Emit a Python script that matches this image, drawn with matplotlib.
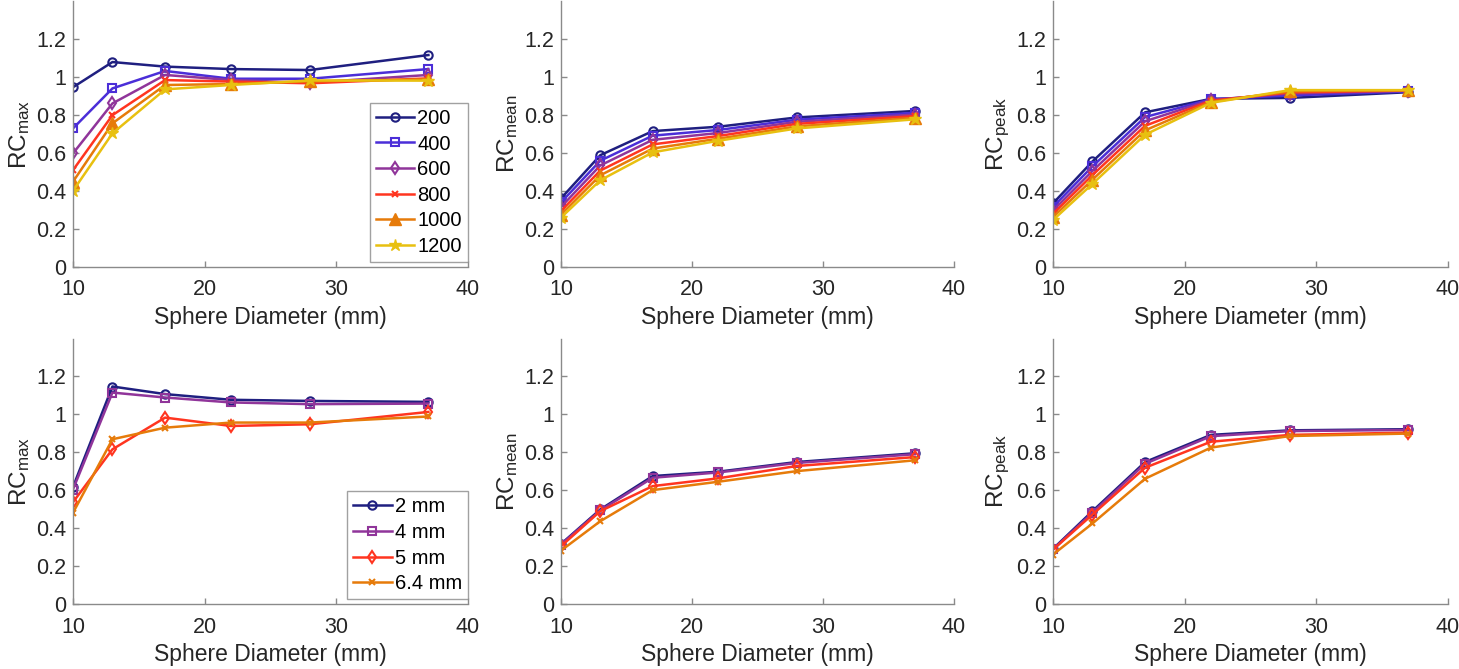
import matplotlib.pyplot as plt

plt.rcParams['font.family'] = ['Liberation Sans', 'DejaVu Sans']
plt.rcParams['mathtext.default'] = 'regular'

# sphere diameters (mm)
diam = [10, 13, 17, 22, 28, 37]

# top row: iterations
iter_labels = ['200', '400', '600', '800', '1000', '1200']
iter_colors = ['#1f1f80', '#4b2ed8', '#90359a', '#ff3520', '#e67b0a', '#e8c010']
iter_markers = ['o', 's', 'd', 'x', '^', '*']

rcmax_iter = [
    [0.947, 1.080, 1.056, 1.043, 1.038, 1.117],
    [0.730, 0.941, 1.033, 0.992, 0.992, 1.043],
    [0.598, 0.862, 1.012, 0.985, 0.971, 1.012],
    [0.510, 0.800, 0.985, 0.977, 0.968, 0.994],
    [0.449, 0.757, 0.959, 0.964, 0.978, 0.989],
    [0.401, 0.704, 0.936, 0.959, 0.983, 0.982],
]
rcmean_iter = [
    [0.361, 0.589, 0.716, 0.739, 0.788, 0.822],
    [0.340, 0.560, 0.692, 0.722, 0.776, 0.812],
    [0.316, 0.535, 0.670, 0.706, 0.765, 0.803],
    [0.295, 0.508, 0.646, 0.690, 0.754, 0.795],
    [0.276, 0.483, 0.624, 0.676, 0.741, 0.786],
    [0.260, 0.457, 0.604, 0.665, 0.730, 0.778],
]
rcpeak_iter = [
    [0.335, 0.556, 0.815, 0.886, 0.891, 0.921],
    [0.316, 0.530, 0.790, 0.884, 0.904, 0.925],
    [0.297, 0.506, 0.768, 0.880, 0.914, 0.928],
    [0.280, 0.484, 0.744, 0.876, 0.920, 0.930],
    [0.263, 0.460, 0.720, 0.870, 0.926, 0.931],
    [0.247, 0.438, 0.697, 0.865, 0.932, 0.932],
]

# bottom row: filter width
filt_labels = ['2 mm', '4 mm', '5 mm', '6.4 mm']
filt_colors = ['#1f1f80', '#90359a', '#ff3520', '#e67b0a']
filt_markers = ['o', 's', 'd', 'x']

rcmax_filt = [
    [0.617, 1.147, 1.107, 1.077, 1.071, 1.066],
    [0.604, 1.115, 1.089, 1.063, 1.054, 1.057],
    [0.537, 0.816, 0.983, 0.939, 0.948, 1.013],
    [0.481, 0.869, 0.930, 0.957, 0.957, 0.989],
]
rcmean_filt = [
    [0.317, 0.499, 0.675, 0.698, 0.749, 0.795],
    [0.314, 0.494, 0.666, 0.694, 0.744, 0.790],
    [0.305, 0.490, 0.622, 0.663, 0.728, 0.775],
    [0.282, 0.437, 0.601, 0.645, 0.701, 0.758],
]
rcpeak_filt = [
    [0.291, 0.490, 0.749, 0.892, 0.916, 0.922],
    [0.288, 0.482, 0.740, 0.885, 0.912, 0.918],
    [0.287, 0.472, 0.719, 0.856, 0.892, 0.904],
    [0.261, 0.425, 0.661, 0.825, 0.886, 0.899],
]

ylabels = ['RC$_{max}$', 'RC$_{mean}$', 'RC$_{peak}$']

fig = plt.figure(figsize=(14.59, 6.69), dpi=100)
lefts = [0.050, 0.3845, 0.7217]
widths = [0.2707, 0.2694, 0.2707]
bottoms = [0.601, 0.097]
height = 0.397


def draw(ax, series, labels, colors, markers, ylab, legend):
    for vals, lab, c, m in zip(series, labels, colors, markers):
        if m in ('o', 's', 'd'):
            ax.plot(diam, vals, color=c, marker=m, markersize=6, lw=1.8,
                    markerfacecolor='none', markeredgewidth=1.5, label=lab)
        elif m == 'x':
            ax.plot(diam, vals, color=c, marker=m, markersize=5, lw=1.8,
                    markeredgewidth=1.5, label=lab)
        else:
            ax.plot(diam, vals, color=c, marker=m, markersize=9, lw=1.8,
                    label=lab)
    ax.set_xlim(10, 40)
    ax.set_ylim(0, 1.4)
    ax.set_xticks([10, 20, 30, 40])
    ax.set_yticks([0, 0.2, 0.4, 0.6, 0.8, 1, 1.2])
    ax.set_yticklabels(['0', '0.2', '0.4', '0.6', '0.8', '1', '1.2'])
    ax.spines['top'].set_visible(False)
    ax.spines['right'].set_visible(False)
    for s in ('left', 'bottom'):
        ax.spines[s].set_color('#8a8a8a')
        ax.spines[s].set_linewidth(1.0)
    ax.tick_params(direction='in', length=4, width=1.0, color='#8a8a8a',
                   labelsize=15.5, labelcolor='#262626', pad=5)
    ax.tick_params(axis='x', pad=9)
    ax.set_xlabel('Sphere Diameter (mm)', fontsize=16.5, color='#262626', labelpad=4)
    ax.set_ylabel(ylab, fontsize=17.5, color='#262626', labelpad=3)
    if legend:
        leg = ax.legend(loc='lower right', bbox_to_anchor=(1.0, 0.018), fontsize=14.5,
                        frameon=True, fancybox=False, handlelength=1.9,
                        handletextpad=0.15, borderaxespad=0.0,
                        labelspacing=0.33, borderpad=0.3)
        leg.get_frame().set_edgecolor('#8a8a8a')
        leg.get_frame().set_linewidth(1.0)


top = [rcmax_iter, rcmean_iter, rcpeak_iter]
bot = [rcmax_filt, rcmean_filt, rcpeak_filt]
for i in range(3):
    ax = fig.add_axes([lefts[i], bottoms[0], widths[i], height])
    draw(ax, top[i], iter_labels, iter_colors, iter_markers, ylabels[i], i == 0)
    ax = fig.add_axes([lefts[i], bottoms[1], widths[i], height])
    draw(ax, bot[i], filt_labels, filt_colors, filt_markers, ylabels[i], i == 0)

fig.savefig('out.png', dpi=100)
